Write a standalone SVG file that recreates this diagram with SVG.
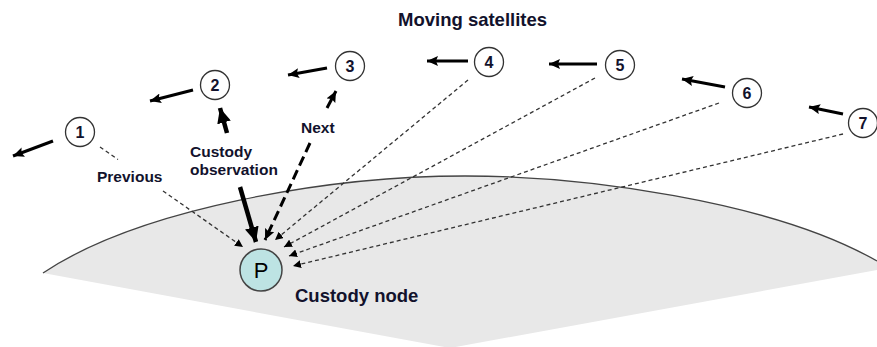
<svg xmlns="http://www.w3.org/2000/svg" width="877" height="347" viewBox="0 0 877 347">
  <style>
    .lbl { font-family: "Liberation Sans", Arial, sans-serif; font-weight: bold; fill: #12122c; }
    .sm { font-size: 15.5px; }
    .big { font-size: 18.5px; }
    .num { font-size: 16px; text-anchor: middle; }
    .sat { fill: #ffffff; stroke: #333333; stroke-width: 1.3; }
    .thin { fill: none; stroke: #333333; stroke-width: 1.3; stroke-dasharray: 4 3; marker-end: url(#ah); }
    .move { fill: none; stroke: #000000; stroke-width: 3; marker-end: url(#mh); }
    .obs { fill: none; stroke: #000000; stroke-width: 4.5; marker-end: url(#oh); }
    .next { fill: none; stroke: #000000; stroke-width: 3; stroke-dasharray: 10 5; marker-end: url(#nh); }
  </style>
  <defs>
    <marker id="ah" markerUnits="userSpaceOnUse" markerWidth="10" markerHeight="8" refX="8" refY="4" orient="auto">
      <path d="M0,0 L8,4 L0,8 Z" fill="#000"/>
    </marker>
    <marker id="mh" markerUnits="userSpaceOnUse" markerWidth="12" markerHeight="10" refX="11" refY="5" orient="auto">
      <path d="M0,0 L11,5 L0,10 L2,5 Z" fill="#000"/>
    </marker>
    <marker id="oh" markerUnits="userSpaceOnUse" markerWidth="16" markerHeight="14" refX="15" refY="7" orient="auto">
      <path d="M0,0 L15,7 L0,14 Z" fill="#000"/>
    </marker>
    <marker id="nh" markerUnits="userSpaceOnUse" markerWidth="12" markerHeight="10" refX="11" refY="5" orient="auto">
      <path d="M0,0 L11,5 L0,10 L2,5 Z" fill="#000"/>
    </marker>
  </defs>

  <g id="coverage">
    <path d="M43,273 C140,208 330,176 465,176 C580,176 770,200 877,261 L877,270 L450,348 Z" fill="#e8e8e8" stroke="none"/>
    <path d="M43,273 C140,208 330,176 465,176 C580,176 770,200 877,261" fill="none" stroke="#444444" stroke-width="1.3"/>
  </g>

  <g id="title">
    <text class="lbl big" x="398" y="26">Moving satellites</text>
  </g>

  <g id="connectors">
    <!-- motion arrows -->
    <line class="move" x1="53" y1="141" x2="13" y2="156"/>
    <line class="move" x1="193" y1="90" x2="150" y2="101"/>
    <line class="move" x1="327" y1="68" x2="288" y2="75"/>
    <line class="move" x1="468" y1="61" x2="427" y2="61"/>
    <line class="move" x1="597" y1="64" x2="549" y2="64"/>
    <line class="move" x1="725" y1="87" x2="682" y2="79"/>
    <line class="move" x1="843" y1="114" x2="809" y2="107"/>
    <!-- previous -->
    <line class="thin" x1="100" y1="147" x2="118" y2="159.5" style="marker-end:none"/>
    <line class="thin" x1="163" y1="191" x2="243" y2="247"/>
    <!-- custody observation -->
    <line class="obs" x1="227" y1="133" x2="220" y2="108"/>
    <line class="obs" x1="240" y1="187" x2="256" y2="242"/>
    <!-- next -->
    <line class="next" x1="327" y1="108" x2="336" y2="91" style="stroke-dasharray:none"/>
    <line class="next" x1="310" y1="143" x2="265" y2="240"/>
    <!-- others -->
    <line class="thin" x1="468" y1="80" x2="275" y2="240"/>
    <line class="thin" x1="595" y1="78" x2="284" y2="247"/>
    <line class="thin" x1="719" y1="103" x2="289" y2="256"/>
    <line class="thin" x1="843" y1="134" x2="293" y2="266"/>
  </g>

  <g id="labels">
    <text class="lbl sm" x="97" y="182">Previous</text>
    <text class="lbl sm" x="190" y="157">Custody</text>
    <text class="lbl sm" x="190" y="175">observation</text>
    <text class="lbl sm" x="301" y="133">Next</text>
  </g>

  <g id="sat1"><circle class="sat" cx="80" cy="132" r="14.5"/><text class="lbl num" x="80" y="138">1</text></g>
  <g id="sat2"><circle class="sat" cx="215" cy="85" r="14.5"/><text class="lbl num" x="215" y="91">2</text></g>
  <g id="sat3"><circle class="sat" cx="350" cy="66" r="14.5"/><text class="lbl num" x="350" y="72">3</text></g>
  <g id="sat4"><circle class="sat" cx="489" cy="62" r="14.5"/><text class="lbl num" x="489" y="68">4</text></g>
  <g id="sat5"><circle class="sat" cx="620" cy="65" r="14.5"/><text class="lbl num" x="620" y="71">5</text></g>
  <g id="sat6"><circle class="sat" cx="747" cy="93" r="14.5"/><text class="lbl num" x="747" y="99">6</text></g>
  <g id="sat7"><circle class="sat" cx="863" cy="123" r="14.5"/><text class="lbl num" x="863" y="129">7</text></g>

  <g id="custody">
    <circle cx="261" cy="270" r="21" fill="#bde3e3" stroke="#444444" stroke-width="1.5"/>
    <text class="lbl" x="261" y="278" style="font-size:22px;font-weight:normal;text-anchor:middle;fill:#000">P</text>
    <text class="lbl big" x="295" y="302">Custody node</text>
  </g>
</svg>
